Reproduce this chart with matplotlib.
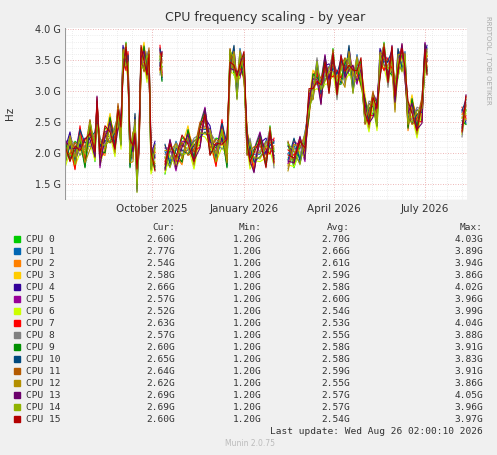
import numpy as np
import matplotlib
matplotlib.use("Agg")
import matplotlib.pyplot as plt

nan = np.nan
base_days = [-87,-82,-77,-72,-67,-62,-57,-55,-52,-47,-42,-37,-34,-31,-29,-26,-24,-22,-19,-17,-15,-13,-11,-8,-5,-3,-1,3,6,8,10,11,13,18,24,30,36,42,48,53,58,64,70,75,78,82,85,88,92,95,98,102,108,114,118,122,124,136,142,148,153,157,161,165,169,173,177,181,185,189,193,197,201,205,209,213,217,221,225,228,232,236,240,243,246,250,253,256,260,265,270,273,275,276,310,314]
base_vals = [2.0,2.1,1.95,2.2,2.0,2.3,2.1,2.7,2.0,2.2,2.4,2.2,2.6,2.3,3.5,3.55,3.4,2.0,2.1,2.4,1.6,2.2,3.5,3.55,3.4,3.5,1.9,1.95,nan,3.5,3.4,nan,1.9,2.0,1.95,2.05,2.2,2.0,2.3,2.5,2.2,2.0,2.3,2.0,3.45,3.5,3.1,3.45,3.4,2.2,2.0,1.9,2.1,2.0,2.2,2.0,nan,1.95,2.0,2.05,2.1,2.8,3.1,3.3,3.0,3.35,3.2,3.45,3.1,3.35,3.3,3.5,3.2,3.35,3.3,2.7,2.6,2.8,2.6,3.45,3.55,3.3,3.5,2.9,3.45,3.55,3.4,2.6,2.7,2.5,2.7,3.55,3.5,nan,2.5,2.7]

cpu_names = [f"CPU {i}" for i in range(16)]
cpu_colors = ["#00CC00","#0066B3","#FF8000","#FFCC00","#330099","#990099","#CCFF00","#FF0000",
              "#808080","#008F00","#00487D","#B35A00","#B38F00","#6B006B","#8FB300","#B30000"]
cpu_jitter = [
 [5,-8,12,-4,0,9,-12,3,-6,10,-2,7,-9],
 [-6,10,-3,8,-11,2,6,-7,12,-5,1,-9,4],
 [9,-2,-10,6,4,-8,11,-3,0,-12,7,5,-6],
 [-10,4,7,-9,10,-1,-5,9,-8,3,12,-4,2],
 [3,12,-6,-2,-9,8,1,-11,6,4,-7,10,-3],
 [12,-9,2,10,-5,-6,9,4,-12,7,-1,-3,8],
 [-12,-4,-8,-10,-3,-7,-11,-2,-9,-6,-5,-13,-1],
 [7,3,-11,12,-7,5,-2,10,-4,-9,8,1,-10],
 [-3,7,9,-12,6,-10,4,-5,11,-1,-8,12,0],
 [10,-11,5,1,-12,11,-7,6,2,-10,9,-4,7],
 [-8,1,-4,9,8,-3,12,-9,5,0,-11,6,-2],
 [1,-6,11,-7,3,12,-9,8,-3,6,-12,2,10],
 [-5,9,-1,4,-8,-12,7,2,10,-7,3,-10,6],
 [11,-1,6,-5,12,-4,-8,11,-10,2,5,-6,-11],
 [-9,6,-7,3,-1,10,2,-12,8,-4,-10,9,1],
 [6,-12,8,-8,11,1,-4,7,-1,12,-3,-7,5],
]
cur_vals = ["2.60G","2.77G","2.54G","2.58G","2.66G","2.57G","2.52G","2.63G","2.57G","2.60G","2.65G","2.64G","2.62G","2.69G","2.69G","2.60G"]
min_vals = ["1.20G"]*16
avg_vals = ["2.70G","2.66G","2.61G","2.59G","2.58G","2.60G","2.54G","2.53G","2.55G","2.58G","2.58G","2.59G","2.55G","2.57G","2.57G","2.54G"]
max_vals = ["4.03G","3.89G","3.94G","3.86G","4.02G","3.96G","3.99G","4.04G","3.88G","3.91G","3.83G","3.91G","3.86G","4.05G","3.96G","3.97G"]
tick_pos = [0, 92, 182, 273]
tick_labels = ["October 2025", "January 2026", "April 2026", "July 2026"]

W, H = 497, 455
fig = plt.figure(figsize=(W/100, H/100), dpi=100, facecolor="#F0F0F0")
ax = fig.add_axes([65/W, 1-200/H, 402/W, 172/H], facecolor="white")
bd = np.array(base_days, float); bv = np.array(base_vals)
for name, col, jit in zip(cpu_names, cpu_colors, cpu_jitter):
    j = np.resize(np.array(jit)/50.0, len(bv))
    ax.plot(bd, bv + j, color=col, lw=0.8)
ax.set_xlim(-87, 315); ax.set_ylim(1.24, 4.02)
ax.set_yticks([1.5,2.0,2.5,3.0,3.5,4.0])
ax.set_yticklabels(["1.5 G","2.0 G","2.5 G","3.0 G","3.5 G","4.0 G"])
ax.set_xticks(tick_pos); ax.set_xticklabels(tick_labels)
ax.set_yticks(np.arange(1.3, 4.02, 0.1), minor=True)
ax.set_xticks(np.arange(-80, 315, 15), minor=True)
ax.grid(True, which="major", color="#E8A0A0", ls=(0,(1,2)), lw=0.6)
ax.grid(True, which="minor", color="#DDDDDD", ls=(0,(1,2)), lw=0.5)
ax.tick_params(which="both", length=0, pad=3)
ax.tick_params(axis="x", labelsize=7.5, labelcolor="#333333")
ax.tick_params(axis="y", labelsize=7, labelcolor="#333333")
for s in ax.spines.values(): s.set_visible(False)
ax.axhline(1.24, color="#999999", lw=0.8)
ax.axvline(-87, color="#999999", lw=0.8)

fig.text(265/W, 1-18/H, "CPU frequency scaling - by year", ha="center", va="center", fontsize=9, color="#333333")
fig.text(10/W, 1-113/H, "Hz", rotation=90, ha="center", va="center", fontsize=7.5, color="#333333")
fig.text(488/W, 1-60/H, "RRDTOOL / TOBI OETIKER", rotation=270, ha="center", va="center", fontsize=5, color="#AAAAAA")

mono = dict(family="DejaVu Sans Mono", fontsize=6.8, color="#333333", va="center")
y0 = 227
fig.text(175/W, 1-y0/H, "Cur:", ha="right", **mono)
fig.text(262/W, 1-y0/H, "Min:", ha="right", **mono)
fig.text(350/W, 1-y0/H, "Avg:", ha="right", **mono)
fig.text(483/W, 1-y0/H, "Max:", ha="right", **mono)
for i in range(16):
    y = 1-(239+12*i)/H
    fig.patches.append(plt.Rectangle((14/W, y-3/H), 6/W, 6/H, transform=fig.transFigure, color=cpu_colors[i]))
    fig.text(26/W, y, cpu_names[i], ha="left", **mono)
    fig.text(175/W, y, cur_vals[i], ha="right", **mono)
    fig.text(262/W, y, min_vals[i], ha="right", **mono)
    fig.text(350/W, y, avg_vals[i], ha="right", **mono)
    fig.text(483/W, y, max_vals[i], ha="right", **mono)
fig.text(483/W, 1-431/H, "Last update: Wed Aug 26 02:00:10 2026", ha="right", **mono)
fig.text(250/W, 1-443/H, "Munin 2.0.75", ha="center", va="center", fontsize=5.5, color="#BBBBBB")
fig.savefig("out.png", dpi=100, facecolor=fig.get_facecolor())
